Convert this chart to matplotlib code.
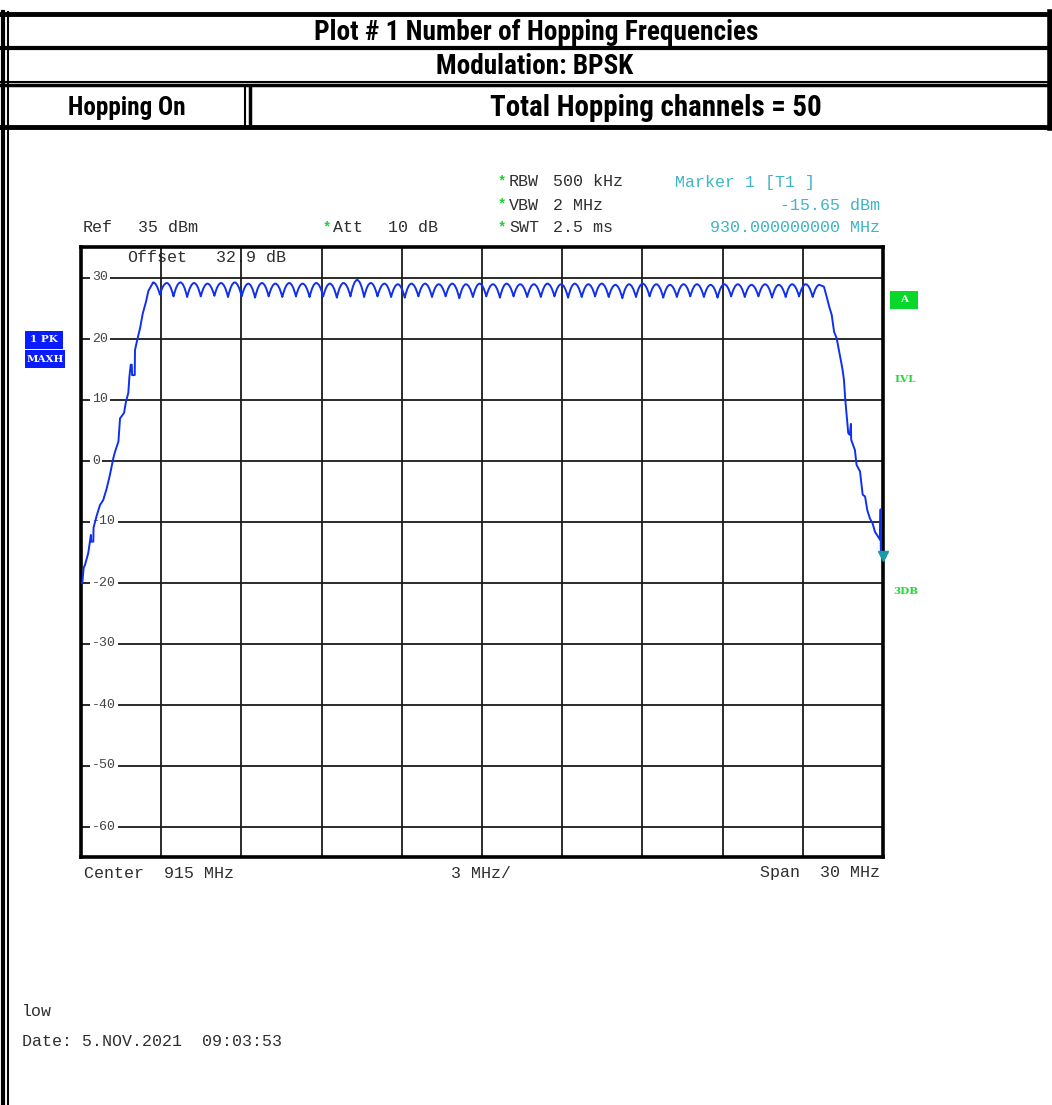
"""Spectrum analyzer screenshot: number of hopping frequencies (BPSK, hopping on)."""

import os

import matplotlib

matplotlib.use("Agg")
import matplotlib.pyplot as plt
from matplotlib import font_manager
from matplotlib.font_manager import FontProperties
from matplotlib.lines import Line2D
from matplotlib.patches import PathPatch, Rectangle
from matplotlib.path import Path

# ---- data -------------------------------------------------------------------
# frequency axis (MHz) and level axis (dBm)
span_mhz = (900.0, 930.0)
level_range_dbm = (-65.0, 35.0)
grid_mhz = [903, 906, 909, 912, 915, 918, 921, 924, 927]
level_ticks = [30, 20, 10, 0, -10, -20, -30, -40, -50, -60]

# lower band edge (rising part of the max-hold trace)
rise_mhz = [900.00, 900.05, 900.10, 900.15, 900.27, 900.37, 900.38, 900.46,
            900.47, 900.59, 900.71, 900.83, 900.96, 901.08, 901.21, 901.27,
            901.40, 901.46, 901.61, 901.68, 901.77, 901.81, 901.86, 901.90,
            901.91, 902.01, 902.02, 902.11, 902.21, 902.31, 902.43, 902.52]
rise_dbm = [-20.2, -20.0, -17.6, -17.1, -15.2, -12.2, -13.3, -13.3,
            -11.0, -9.0, -7.3, -6.5, -4.6, -2.4, 0.4, 1.4,
            3.1, 6.9, 7.8, 9.6, 11.1, 13.7, 15.7, 15.7,
            14.0, 14.0, 18.1, 19.9, 21.7, 24.1, 26.0, 27.8]

# 50 hopping channels: lobe tops
hop_peak_mhz = [902.70, 903.21, 903.72, 904.23, 904.73, 905.24, 905.75, 906.26, 906.77, 907.27,
                907.79, 908.29, 908.80, 909.31, 909.82, 910.33, 910.84, 911.35, 911.85, 912.36,
                912.87, 913.38, 913.89, 914.40, 914.91, 915.41, 915.92, 916.43, 916.94, 917.45,
                917.96, 918.47, 918.98, 919.48, 919.99, 920.50, 921.01, 921.52, 922.03, 922.54,
                923.04, 923.55, 924.06, 924.57, 925.08, 925.59, 926.10, 926.60, 927.11, 927.62]
hop_peak_dbm = [29.2, 29.1, 29.2, 29.1, 29.0, 29.1, 29.2, 29.0, 29.1, 29.0,
                29.1, 29.0, 29.1, 29.0, 29.1, 29.6, 29.1, 29.0, 28.9, 29.0,
                29.0, 28.9, 29.0, 28.9, 29.0, 28.9, 29.0, 28.9, 28.9, 29.0,
                28.9, 29.0, 28.9, 29.0, 28.8, 28.9, 29.0, 28.9, 28.8, 28.9,
                28.9, 28.8, 28.9, 28.9, 28.8, 28.9, 28.8, 28.9, 28.9, 28.8]

# dips between neighbouring channels
valley_mhz = [902.95, 903.46, 903.97, 904.48, 904.99, 905.50, 906.01, 906.51, 907.02, 907.53,
              908.04, 908.55, 909.06, 909.57, 910.08, 910.59, 911.09, 911.60, 912.11, 912.62,
              913.13, 913.64, 914.15, 914.66, 915.16, 915.67, 916.18, 916.69, 917.20, 917.71,
              918.22, 918.73, 919.23, 919.74, 920.25, 920.76, 921.27, 921.78, 922.29, 922.79,
              923.30, 923.81, 924.32, 924.83, 925.34, 925.85, 926.36, 926.86, 927.37]
valley_dbm = [27.2, 26.9, 26.8, 26.9, 27.0, 26.8, 26.9, 26.7, 26.9, 26.8,
              26.9, 26.8, 26.9, 26.7, 26.9, 26.8, 26.9, 26.8, 26.7, 26.9,
              26.8, 26.9, 26.6, 26.8, 26.9, 26.7, 26.9, 26.8, 26.8, 26.9,
              26.7, 26.8, 26.9, 26.8, 26.6, 26.8, 26.9, 26.7, 26.8, 26.9,
              26.8, 26.7, 26.9, 26.8, 26.9, 26.7, 26.8, 26.9, 26.8]

# upper band edge (falling part of the trace)
fall_mhz = [927.79, 927.89, 927.99, 928.08, 928.17, 928.27, 928.35, 928.42,
            928.49, 928.54, 928.59, 928.70, 928.76, 928.80, 928.81, 928.95,
            929.01, 929.14, 929.24, 929.33, 929.41, 929.51, 929.61, 929.70,
            929.82, 929.89, 929.91, 929.92, 930.00]
fall_dbm = [28.5, 26.9, 25.2, 23.9, 21.1, 20.0, 18.1, 16.5,
            14.8, 13.2, 9.9, 4.5, 4.2, 6.0, 3.4, 1.7,
            -0.7, -1.8, -5.6, -5.9, -8.1, -9.5, -10.3, -11.7,
            -12.5, -13.0, -8.0, -15.2, -15.65]

marker_mhz = 930.0
marker_dbm = -15.65

# ---- look -------------------------------------------------------------------
W, H = 1052, 1105
MONO = ["Liberation Mono", "DejaVu Sans Mono"]
BADGE = ["DejaVu Serif"]
TEXT_GREY = "#2e2e2e"
TRACE_BLUE = "#1030f0"
MARKER_CYAN = "#3fb5c5"
STAR_GREEN = "#19d12c"


def fx(x):
    return x / W


def fy(y):
    return 1 - y / H


def header_font():
    # the report header uses a narrow bold sans; take the narrowest one installed
    candidates = [("Liberation Sans Narrow", "normal"), ("Arial Narrow", "normal"),
                  ("Roboto Condensed", "normal"), ("DejaVu Sans", "condensed"),
                  ("Noto Sans", "condensed"), ("Open Sans", "condensed")]
    for family, stretch in candidates:
        fp = FontProperties(family=family, stretch=stretch, weight="bold")
        try:
            path = font_manager.findfont(fp, fallback_to_default=False)
        except ValueError:
            continue
        name = os.path.basename(path).lower()
        if "narrow" in name or "condensed" in name or "cond" in name:
            return fp
    return FontProperties(family="Liberation Sans", weight="bold")


def hline(fig, y, x0, x1, lw):
    fig.add_artist(Line2D([fx(x0), fx(x1)], [fy(y), fy(y)], color="black",
                          lw=lw, transform=fig.transFigure))


def vline(fig, x, y0, y1, lw):
    fig.add_artist(Line2D([fx(x), fx(x)], [fy(y0), fy(y1)], color="black",
                          lw=lw, transform=fig.transFigure))


def ftext(fig, x, y, s, **kw):
    kw.setdefault("family", MONO)
    kw.setdefault("fontsize", 12)
    kw.setdefault("color", TEXT_GREY)
    kw.setdefault("va", "center")
    return fig.text(fx(x), fy(y), s, **kw)


def header_text(fig, x, y, s, width_px, fp):
    # size the text so that it spans about the same width as in the report
    t = fig.text(fx(x), fy(y), s, fontproperties=fp, fontsize=20, color="black",
                 ha="center", va="center")
    renderer = fig.canvas.get_renderer()
    w = t.get_window_extent(renderer).width
    t.set_fontsize(20 * 0.94 * width_px / w)
    return t


def badge(fig, x0, y0, x1, y1, label, face):
    fig.add_artist(Rectangle((fx(x0), fy(y1)), fx(x1) - fx(x0), fy(y0) - fy(y1),
                             facecolor=face, edgecolor="none",
                             transform=fig.transFigure))
    fig.text(fx((x0 + x1) / 2), fy((y0 + y1) / 2), label, color="white",
             family=BADGE, fontweight="bold", fontsize=7.5, ha="center", va="center")


def trace_path():
    verts = list(zip(rise_mhz, rise_dbm))
    codes = [Path.MOVETO] + [Path.LINETO] * (len(verts) - 1)
    verts.append((hop_peak_mhz[0], hop_peak_dbm[0]))
    codes.append(Path.LINETO)
    # rounded lobe tops, sharp dips: quadratic curves peak -> dip -> peak
    for k in range(len(valley_mhz)):
        px, py = hop_peak_mhz[k], hop_peak_dbm[k]
        vx, vy = valley_mhz[k], valley_dbm[k]
        qx, qy = hop_peak_mhz[k + 1], hop_peak_dbm[k + 1]
        verts += [((px + vx) / 2, py), (vx, vy), ((vx + qx) / 2, qy), (qx, qy)]
        codes += [Path.CURVE3] * 4
    for pt in zip(fall_mhz, fall_dbm):
        verts.append(pt)
        codes.append(Path.LINETO)
    return Path(verts, codes)


def main():
    fig = plt.figure(figsize=(W / 100, H / 100), dpi=100)

    # header table
    hline(fig, 13.5, 1, 1051, 3.5)
    hline(fig, 48, 1, 1051, 3)
    hline(fig, 81.5, 1, 1051, 1.5)
    hline(fig, 85.5, 1, 1051, 2.5)
    hline(fig, 127, 1, 1051, 3.5)
    vline(fig, 2.5, 12, H, 3)
    vline(fig, 7.5, 12, H, 1.5)
    vline(fig, 1049.5, 12, 128, 4)
    vline(fig, 245, 86, 126, 1.5)
    vline(fig, 249.5, 86, 126, 2.5)

    hfont = header_font()
    header_text(fig, 536, 33, "Plot # 1 Number of Hopping Frequencies", 472, hfont)
    header_text(fig, 535, 67, "Modulation: BPSK", 210, hfont)
    header_text(fig, 127, 108, "Hopping On", 125, hfont)
    header_text(fig, 656, 108, "Total Hopping channels = 50", 353, hfont)

    # analyzer settings above the screen
    ftext(fig, 83, 228, "Ref")
    ftext(fig, 138, 228, "35 dBm")
    ftext(fig, 333, 228, "Att")
    ftext(fig, 388, 228, "10 dB")
    for y, name, value in [(182, "RBW", "500 kHz"), (205, "VBW", "2 MHz"),
                           (228, "SWT", "2.5 ms")]:
        ftext(fig, 509, y, name)
        ftext(fig, 553, y, value)
        ftext(fig, 502, y - 1, "*", color=STAR_GREEN, fontsize=10, ha="center",
              fontweight="bold")
    ftext(fig, 327, 227, "*", color=STAR_GREEN, fontsize=10, ha="center",
          fontweight="bold")
    ftext(fig, 675, 183, "Marker 1 [T1 ]", color=MARKER_CYAN)
    ftext(fig, 880, 206, f"{marker_dbm:.2f} dBm", color=MARKER_CYAN, ha="right")
    ftext(fig, 880, 228, f"{marker_mhz:.9f} MHz", color=MARKER_CYAN, ha="right")

    # screen
    ax = fig.add_axes([fx(81), fy(857), fx(883) - fx(81), fy(247) - fy(857)])
    ax.set_xticks(grid_mhz)
    ax.set_yticks(level_ticks)
    ax.tick_params(length=0, labelbottom=False, labelleft=False)
    ax.grid(True, color="#1a1a1a", lw=1.3)
    for spine in ax.spines.values():
        spine.set_linewidth(2.6)
        spine.set_color("black")

    for v in level_ticks:
        ax.text(900.42, v, f"{v}", family=MONO, fontsize=9.5, color="#444444",
                ha="left", va="center", zorder=3,
                bbox=dict(facecolor="white", edgecolor="none", pad=1.5))
    ax.text(901.71, 33.2, "Offset", family=MONO, fontsize=12, color=TEXT_GREY,
            va="center", zorder=1)
    ax.text(905.05, 33.2, "32.9 dB", family=MONO, fontsize=12, color=TEXT_GREY,
            va="center", zorder=1)

    ax.add_patch(PathPatch(trace_path(), fill=False, edgecolor=TRACE_BLUE, lw=1.4,
                           joinstyle="round", zorder=4))
    ax.plot([marker_mhz], [marker_dbm], marker="v", ms=7, color="#1a9aaa",
            clip_on=False, zorder=5)
    ax.set_xlim(*span_mhz)
    ax.set_ylim(*level_range_dbm)

    # side badges
    badge(fig, 25, 331, 63, 349, "1 PK", "#0a1cff")
    badge(fig, 25, 350, 65, 368, "MAXH", "#0a1cff")
    badge(fig, 890, 291, 918, 309, "A", "#08d82a")
    ftext(fig, 905, 379, "LVL", family=BADGE, fontweight="bold", fontsize=7.5,
          color="#20d83a", ha="center")
    ftext(fig, 906, 591, "3DB", family=BADGE, fontweight="bold", fontsize=7.5,
          color="#20d83a", ha="center")

    # below the screen
    ftext(fig, 84, 873, "Center  915 MHz")
    ftext(fig, 481, 873, "3 MHz/", ha="center")
    ftext(fig, 880, 873, "Span  30 MHz", ha="right")
    ftext(fig, 22, 1011, "low")
    ftext(fig, 22, 1041, "Date: 5.NOV.2021  09:03:53")

    fig.savefig("out.png", dpi=100)
    plt.close(fig)


if __name__ == "__main__":
    main()
